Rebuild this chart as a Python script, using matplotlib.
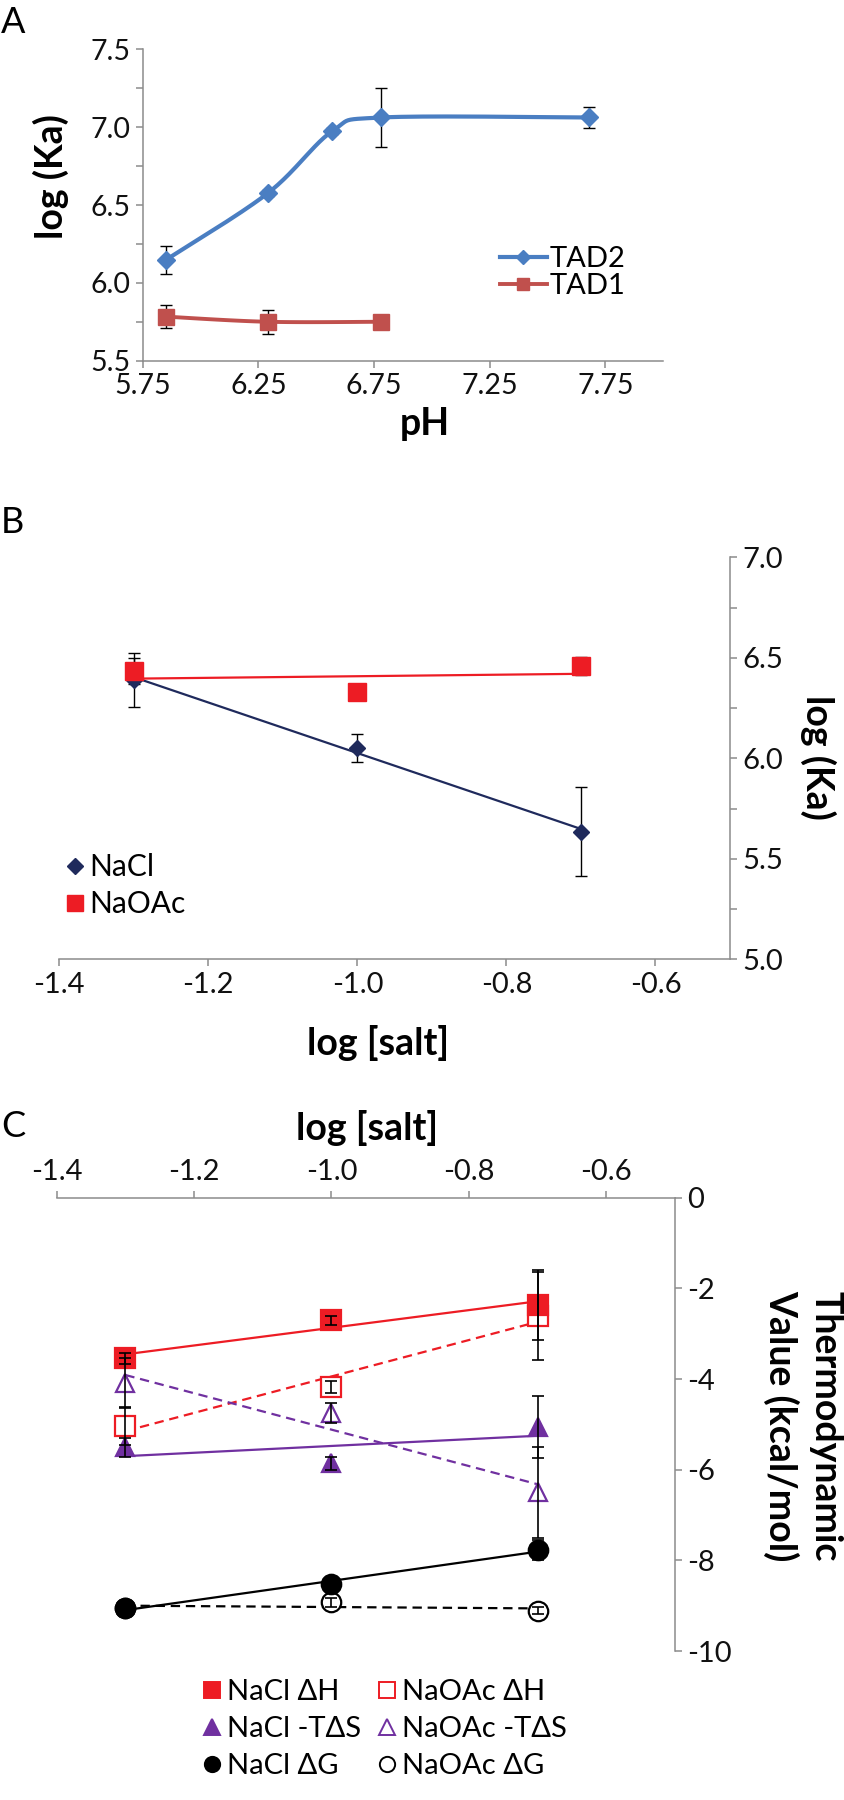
import numpy as np
import matplotlib
matplotlib.use('Agg')
import matplotlib.pyplot as plt
from matplotlib.lines import Line2D

plt.rcParams['font.family'] = ['Lato', 'DejaVu Sans']
plt.rcParams['axes.unicode_minus'] = False

# ---- Panel A data: log(Ka) vs pH
ph_tad2 = [5.85, 6.29, 6.57, 6.78, 7.68]
ka_tad2 = [6.147, 6.575, 6.975, 7.062, 7.062]
err_tad2 = [0.089, 0.02, 0.02, 0.188, 0.065]
ph_tad1 = [5.85, 6.29, 6.78]
ka_tad1 = [5.783, 5.75, 5.75]
err_tad1 = [0.075, 0.077, 0.0]

# ---- Panel B data: log(Ka) vs log[salt]
salt = [-1.3, -1.0, -0.7]
ka_nacl = [6.39, 6.053, 5.635]
err_nacl = [0.136, 0.069, 0.222]
ka_naoac = [6.435, 6.331, 6.459]
err_naoac = [0.065, 0.02, 0.045]

# ---- Panel C data: thermodynamic values (kcal/mol)
dh_nacl = [-3.54, -2.70, -2.37]
dh_nacl_err = [0.12, 0.1, 0.78]
dh_naoac = [-5.03, -4.18, -2.62]
dh_naoac_err = [0.42, 0.13, 0.97]
ts_nacl = [-5.51, -5.86, -5.06]
ts_nacl_err = [0.2, 0.15, 0.68]
ts_naoac = [-4.09, -4.76, -6.50]
ts_naoac_err = [0.55, 0.22, 1.0]
dg_nacl = [-9.06, -8.53, -7.77]
dg_nacl_err = [0.1, 0.05, 0.22]
dg_naoac = [-9.05, -8.93, -9.11]
dg_naoac_err = [0.05, 0.1, 0.08]

W, H = 845, 1800
GRAY = '#8c8c8c'
BLUE = '#4a7ec2'
DRED = '#c0504d'
NAVY = '#1f2a5c'
RED = '#ed1c24'
PURPLE = '#7030a0'


def fx(px):
    return px / W


def fy(py):
    return 1 - py / H


def box(x0, y0, x1, y1):
    return [fx(x0), fy(y1), (x1 - x0) / W, (y1 - y0) / H]


def smooth(xs, ys, n=40):
    # Bezier smoothing through the points (like a spreadsheet smoothed line)
    P = np.column_stack([xs, ys]).astype(float)
    out = []
    for i in range(len(P) - 1):
        p0 = P[i - 1] if i > 0 else P[i]
        p3 = P[i + 2] if i + 2 < len(P) else P[i + 1]
        p1, p2 = P[i], P[i + 1]
        c1 = p1 + (p2 - p0) / 6
        c2 = p2 - (p3 - p1) / 6
        t = np.linspace(0, 1, n)[:, None]
        out.append((1 - t) ** 3 * p1 + 3 * (1 - t) ** 2 * t * c1
                   + 3 * (1 - t) * t ** 2 * c2 + t ** 3 * p2)
    return np.vstack(out)


def style_spines(ax, show):
    for s in ['left', 'right', 'top', 'bottom']:
        ax.spines[s].set_visible(s in show)
        ax.spines[s].set_color(GRAY)
        ax.spines[s].set_linewidth(1.1)
    ax.tick_params(which='both', direction='out', length=5, width=1.1,
                   color=GRAY, labelcolor='#111111')
    ax.set_facecolor('none')


fig = plt.figure(figsize=(W / 100, H / 100), dpi=100)

# ================= Panel A =================
axA = fig.add_axes(box(142.7, 49.3, 663.3, 360.7))
style_spines(axA, ['left', 'bottom'])
axA.set_xlim(5.75, 8.0)
axA.set_ylim(5.5, 7.5)
axA.set_xticks([5.75, 6.25, 6.75, 7.25, 7.75])
axA.set_xticklabels(['5.75', '6.25', '6.75', '7.25', '7.75'])
axA.set_yticks([5.5, 6.0, 6.5, 7.0, 7.5])
axA.set_yticklabels(['5.5', '6.0', '6.5', '7.0', '7.5'])
axA.set_yticks([5.75, 6.25, 6.75, 7.25], minor=True)
axA.tick_params(labelsize=20.5, pad=4)

c2 = smooth(ph_tad2, ka_tad2)
c1 = smooth(ph_tad1, ka_tad1)
axA.plot(c2[:, 0], c2[:, 1], color=BLUE, lw=3.0, zorder=2)
axA.plot(c1[:, 0], c1[:, 1], color=DRED, lw=2.8, zorder=2)
axA.errorbar(ph_tad2, ka_tad2, yerr=err_tad2, fmt='none', ecolor='black',
             elinewidth=1.0, capsize=4, capthick=1.0, zorder=3)
axA.errorbar(ph_tad1, ka_tad1, yerr=err_tad1, fmt='none', ecolor='black',
             elinewidth=1.0, capsize=4, capthick=1.0, zorder=3)
axA.plot(ph_tad2, ka_tad2, 'D', color=BLUE, ms=9, zorder=4)
axA.plot(ph_tad1, ka_tad1, 's', color=DRED, ms=12, zorder=4)
hA = [Line2D([], [], color=BLUE, lw=3.0, marker='D', ms=7),
      Line2D([], [], color=DRED, lw=2.8, marker='s', ms=9)]
fig.legend(hA, ['TAD2', 'TAD1'], loc='upper left',
           bbox_to_anchor=(fx(500), fy(246)), frameon=False, fontsize=21,
           handlelength=1.6, handletextpad=0.1, labelspacing=0.05,
           borderpad=0, borderaxespad=0)

fig.text(fx(1), fy(33), 'A', fontsize=26, va='baseline', ha='left')
fig.text(fx(51), fy(177), 'log (Ka)', fontsize=27, fontweight='bold',
         rotation=90, ha='center', va='center')
fig.text(fx(425), fy(435), 'pH', fontsize=27, fontweight='bold',
         ha='center', va='baseline')

# ================= Panel B =================
axB = fig.add_axes(box(59.3, 557.3, 730, 959.3))
style_spines(axB, ['right', 'bottom'])
axB.yaxis.tick_right()
axB.set_xlim(-1.4, -0.5)
axB.set_ylim(5.0, 7.0)
axB.set_xticks([-1.4, -1.2, -1.0, -0.8, -0.6])
axB.set_xticklabels(['-1.4', '-1.2', '-1.0', '-0.8', '-0.6'])
axB.set_yticks([5.0, 5.5, 6.0, 6.5, 7.0])
axB.set_yticklabels(['5.0', '5.5', '6.0', '6.5', '7.0'])
axB.set_yticks([5.25, 5.75, 6.25, 6.75], minor=True)
axB.tick_params(labelsize=21, pad=4)

xs = np.array(salt)
for vals, col in [(ka_nacl, NAVY), (ka_naoac, RED)]:
    k, b = np.polyfit(salt, vals, 1)
    axB.plot(xs[[0, -1]], k * xs[[0, -1]] + b, color=col, lw=1.6, zorder=1)
axB.errorbar(salt, ka_nacl, yerr=err_nacl, fmt='none', ecolor='black',
             elinewidth=1.0, capsize=4, capthick=1.0, zorder=3)
axB.errorbar(salt, ka_naoac, yerr=err_naoac, fmt='none', ecolor='black',
             elinewidth=1.0, capsize=4, capthick=1.0, zorder=3)
axB.plot(salt, ka_nacl, 'D', color=NAVY, ms=8.5, zorder=4)
axB.plot(salt, ka_naoac, 's', color=RED, ms=13, zorder=4)
hB = [Line2D([], [], ls='none', color=NAVY, marker='D', ms=8.5),
      Line2D([], [], ls='none', color=RED, marker='s', ms=12)]
fig.legend(hB, ['NaCl', 'NaOAc'], loc='upper left',
           bbox_to_anchor=(fx(68), fy(853)), frameon=False, fontsize=21.5,
           handlelength=0.5, handletextpad=0.2, labelspacing=0.3,
           borderpad=0, borderaxespad=0)

fig.text(fx(1), fy(533), 'B', fontsize=26, va='baseline', ha='left')
fig.text(fx(818), fy(757), 'log (Ka)', fontsize=27, fontweight='bold',
         rotation=270, ha='center', va='center')
fig.text(fx(378), fy(1055), 'log [salt]', fontsize=27, fontweight='bold',
         ha='center', va='baseline')

# ================= Panel C =================
axC = fig.add_axes(box(56.7, 1197.7, 675, 1651))
style_spines(axC, ['right', 'top'])
axC.xaxis.tick_top()
axC.yaxis.tick_right()
axC.set_xlim(-1.4, -0.5)
axC.set_ylim(-10, 0)
axC.set_xticks([-1.4, -1.2, -1.0, -0.8, -0.6])
axC.set_xticklabels(['-1.4', '-1.2', '-1.0', '-0.8', '-0.6'])
axC.set_yticks([0, -2, -4, -6, -8, -10])
axC.set_yticklabels(['0', '-2', '-4', '-6', '-8', '-10'])
axC.tick_params(labelsize=21, pad=4)

dash = (0, (4.2, 2.6))
series = [
    (dh_nacl, dh_nacl_err, RED, 's', True, '-', 'NaCl ΔH'),
    (ts_nacl, ts_nacl_err, PURPLE, '^', True, '-', 'NaCl -TΔS'),
    (dg_nacl, dg_nacl_err, 'black', 'o', True, '-', 'NaCl ΔG'),
    (dh_naoac, dh_naoac_err, RED, 's', False, dash, 'NaOAc ΔH'),
    (ts_naoac, ts_naoac_err, PURPLE, '^', False, dash, 'NaOAc -TΔS'),
    (dg_naoac, dg_naoac_err, 'black', 'o', False, dash, 'NaOAc ΔG'),
]
hC, lC = [], []
for vals, err, col, mk, filled, ls, lab in series:
    k, b = np.polyfit(salt, vals, 1)
    axC.plot(xs[[0, -1]], k * xs[[0, -1]] + b, color=col, lw=1.6, ls=ls, zorder=1)
    fc = col if filled else 'white'
    # filled (NaCl) markers sit above the open (NaOAc) ones
    axC.plot(salt, vals, mk, ms=14 if mk != '^' else 13.5, mfc=fc, mec=col,
             mew=1.6, ls='none', zorder=2.5 if filled else 2)
    axC.errorbar(salt, vals, yerr=err, fmt='none', ecolor='black',
                 elinewidth=1.2, capsize=4, capthick=1.2, zorder=3)
    hC.append(Line2D([], [], ls='none', marker=mk, ms=11, mfc=fc, mec=col, mew=1.4))
    lC.append(lab)

fig.legend(hC, lC, loc='upper left', ncol=2,
           bbox_to_anchor=(fx(204), fy(1679)), frameon=False, fontsize=21,
           handlelength=0.55, handletextpad=0.25, labelspacing=0.38,
           columnspacing=0.6, borderpad=0, borderaxespad=0)

fig.text(fx(1), fy(1137), 'C', fontsize=26, va='baseline', ha='left')
fig.text(fx(367), fy(1140), 'log [salt]', fontsize=27, fontweight='bold',
         ha='center', va='baseline')
fig.text(fx(803), fy(1426), 'Thermodynamic\nValue (kcal/mol)', fontsize=27,
         fontweight='bold', rotation=270, ha='center', va='center',
         multialignment='center', linespacing=1.3)

fig.savefig('out.png', dpi=100, facecolor='white')
